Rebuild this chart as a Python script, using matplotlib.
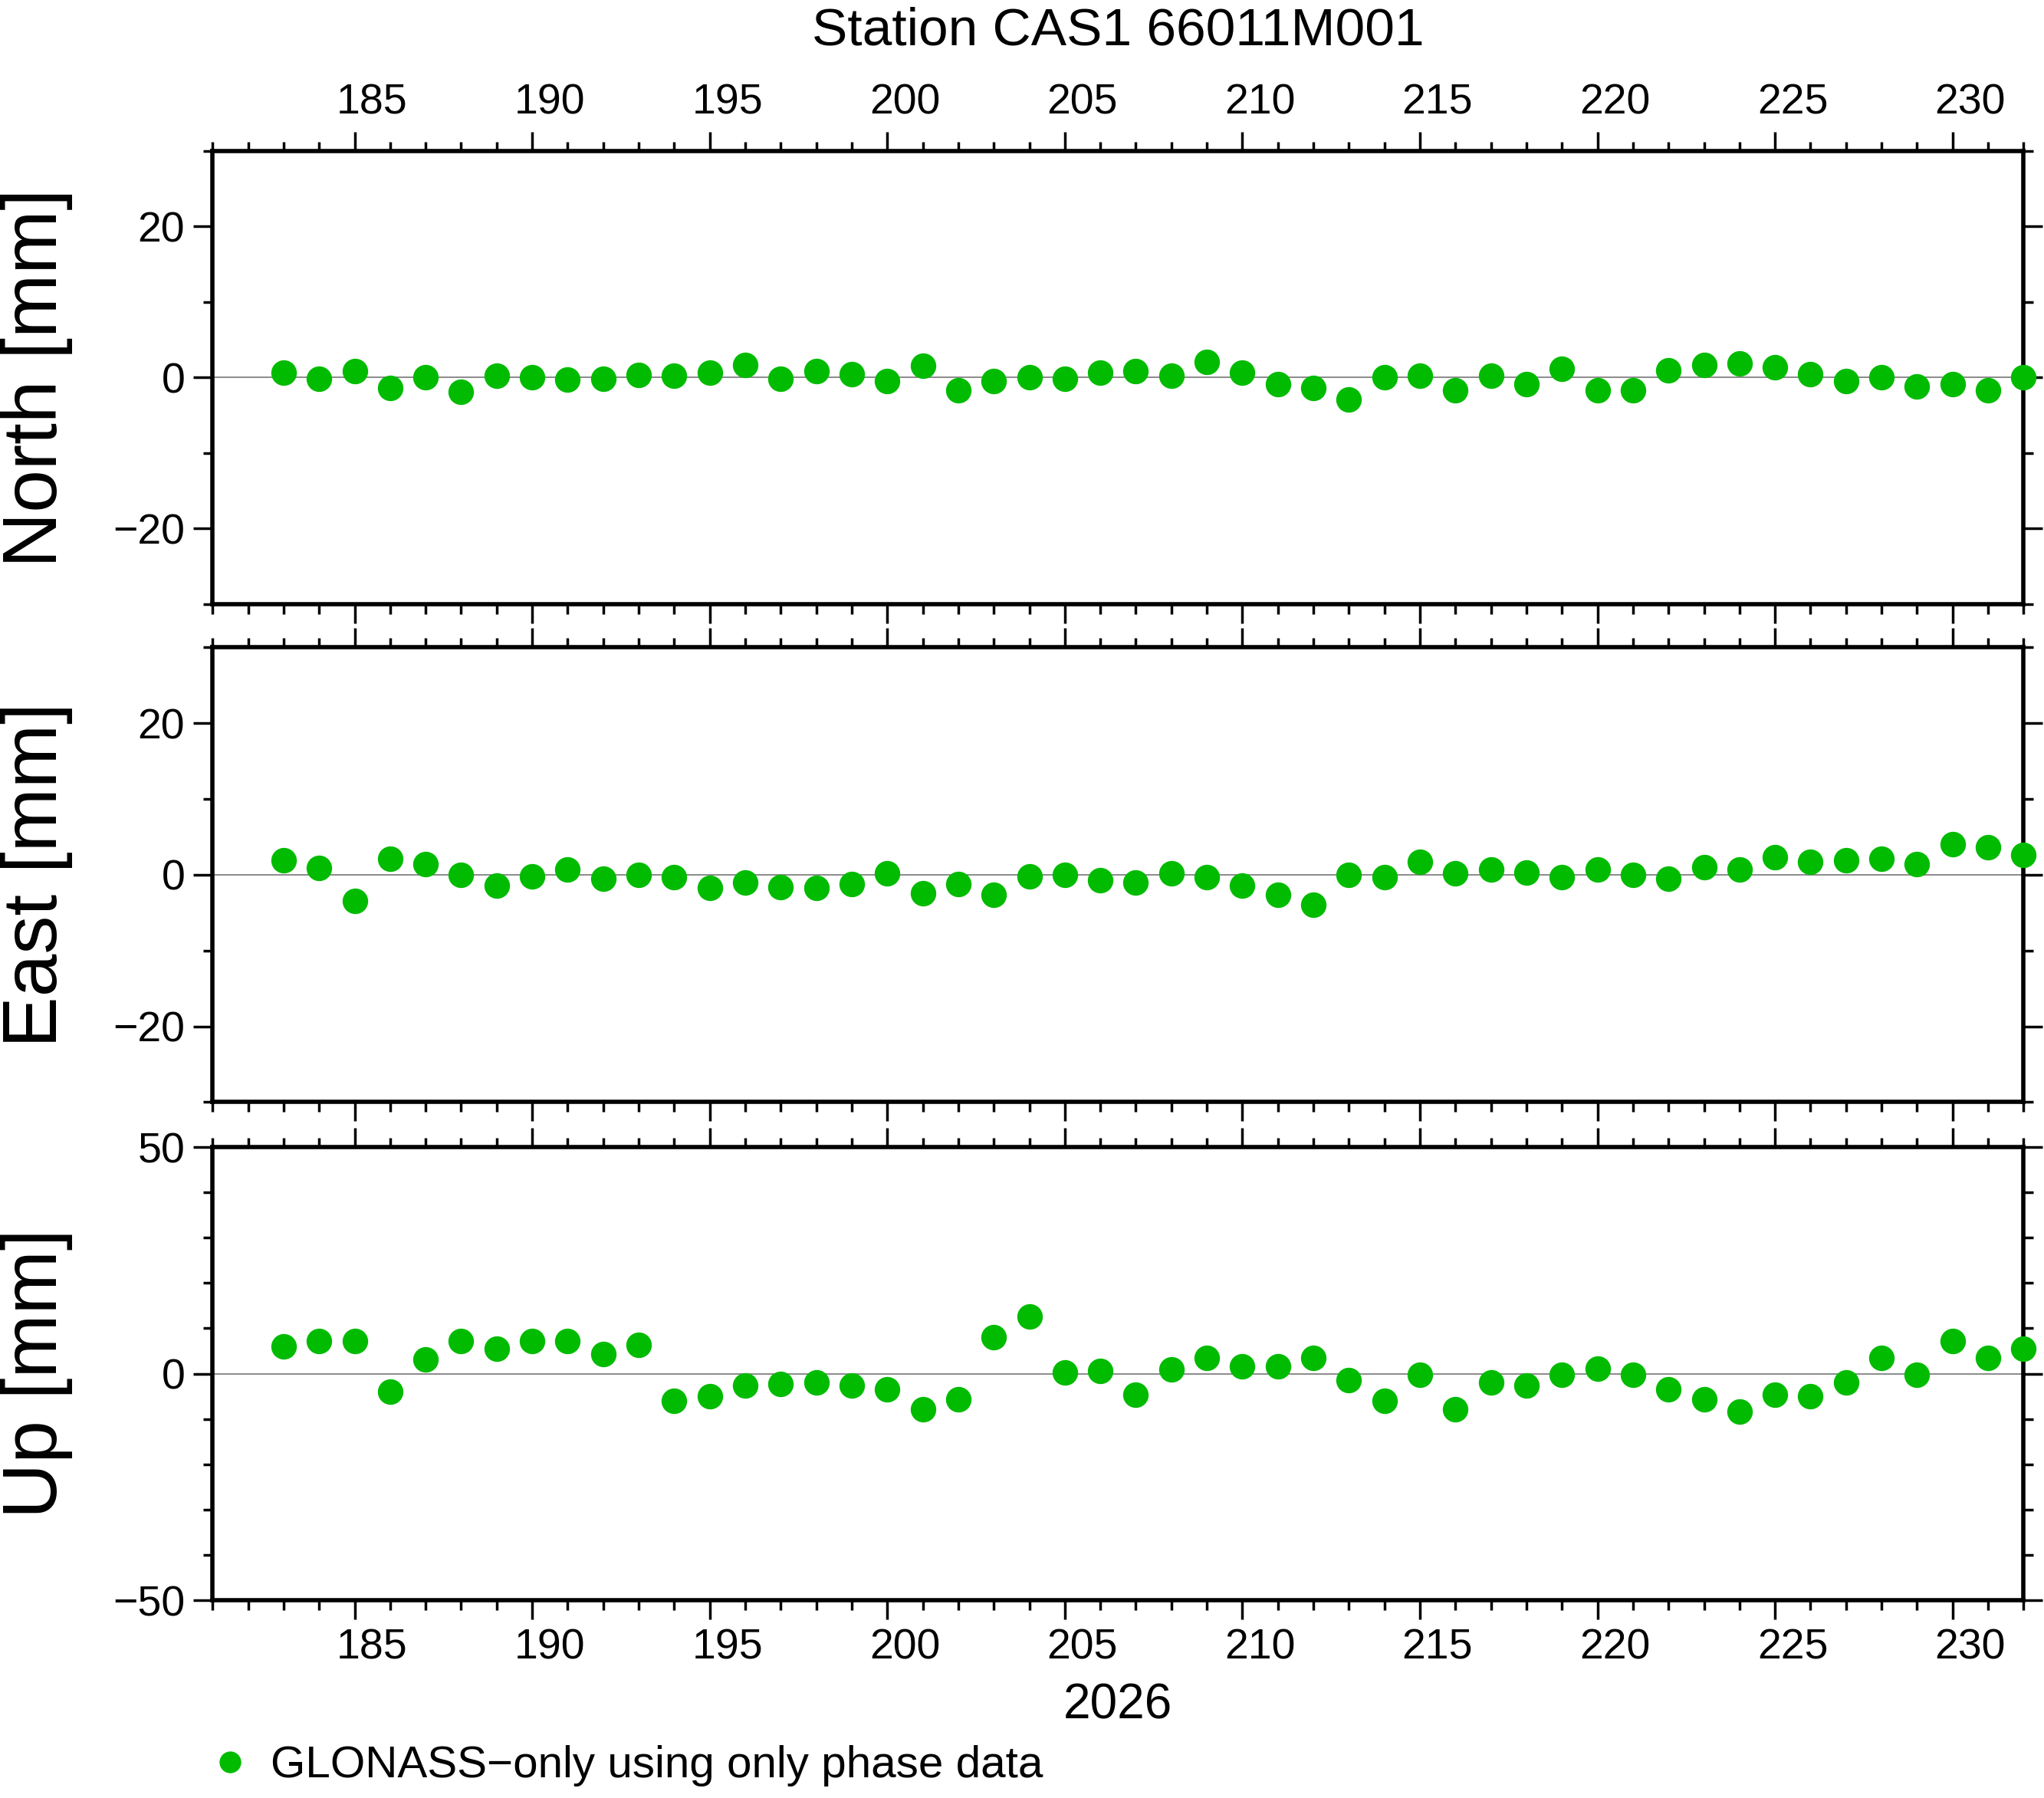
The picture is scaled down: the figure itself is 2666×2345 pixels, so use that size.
import matplotlib
matplotlib.use('Agg')
import matplotlib.pyplot as plt
import matplotlib.ticker as mticker
import matplotlib.transforms as mtrans
import numpy as np

plt.rcParams['font.family'] = ['Liberation Sans', 'DejaVu Sans']

days = np.arange(183, 233)
north = [0.7, -0.2, 0.9, -1.4, 0.0, -1.9, 0.2, 0.0, -0.3, -0.2, 0.3, 0.2, 0.7, 1.7, -0.2, 0.9,
         0.5, -0.5, 1.6, -1.7, -0.5, 0.0, -0.2, 0.7, 0.9, 0.2, 2.1, 0.7, -0.9, -1.4, -2.9, 0.0,
         0.2, -1.7, 0.2, -0.9, 1.2, -1.7, -1.7, 1.0, 1.7, 1.9, 1.4, 0.5, -0.5, 0.0, -1.2, -0.9,
         -1.7, 0.0]
east = [1.9, 0.9, -3.5, 2.1, 1.4, 0.0, -1.4, -0.2, 0.7, -0.5, 0.0, -0.3, -1.7, -1.0, -1.6,
        -1.7, -1.2, 0.2, -2.4, -1.2, -2.6, -0.2, 0.0, -0.7, -1.0, 0.2, -0.3, -1.4, -2.6, -4.0,
        0.0, -0.3, 1.7, 0.2, 0.7, 0.3, -0.3, 0.7, 0.0, -0.5, 1.0, 0.7, 2.3, 1.7, 1.9, 2.1, 1.4,
        4.0, 3.6, 2.6]
up = [6.0, 7.2, 7.2, -4.0, 3.2, 7.2, 5.5, 7.2, 7.2, 4.3, 6.3, -6.0, -4.9, -2.6, -2.3, -2.0,
      -2.6, -3.4, -7.8, -5.7, 8.0, 12.6, 0.3, 0.6, -4.6, 0.9, 3.4, 1.7, 1.7, 3.4, -1.4, -6.0,
      -0.3, -7.8, -2.0, -2.6, -0.3, 1.1, -0.3, -3.4, -5.7, -8.3, -4.6, -4.9, -2.0, 3.4, -0.3,
      7.2, 3.4, 5.5]

panels = [('North [mm]', north, 30, 20), ('East [mm]', east, 30, 20), ('Up [mm]', up, 50, 50)]
green = '#00bb00'

fig = plt.figure(figsize=(26.66, 23.45), dpi=100)
bounds = [(0.664, 0.916), (0.387, 0.640), (0.110, 0.362)]
shift = mtrans.ScaledTranslation(0.23, 0, fig.dpi_scale_trans)

for i, (label, vals, lim, major) in enumerate(panels):
    b, t = bounds[i]
    ax = fig.add_axes([0.104, b, 0.886, t - b])
    ax.axhline(0, color='#777777', lw=1.2, zorder=1)
    h, = ax.plot(days, vals, 'o', color=green, ms=24, mec='none', zorder=3, clip_on=False)
    ax.set_xlim(181, 232)
    ax.set_ylim(-lim, lim)
    ax.yaxis.set_major_locator(mticker.MultipleLocator(major))
    ax.yaxis.set_minor_locator(mticker.MultipleLocator(10))
    ax.xaxis.set_major_locator(mticker.MultipleLocator(5))
    ax.xaxis.set_minor_locator(mticker.MultipleLocator(1))
    ax.yaxis.set_major_formatter(mticker.FuncFormatter(lambda v, p: f'{v:.0f}'.replace('-', '\u2212')))
    ax.tick_params(which='major', direction='out', length=18, width=2.5, labelsize=40,
                   top=True, right=True, labeltop=(i == 0), labelbottom=(i == 2), pad=8)
    ax.tick_params(which='minor', direction='out', length=9, width=2.5, top=True, right=True)
    for s in ax.spines.values():
        s.set_linewidth(4)
    for lab in ax.get_xticklabels():
        lab.set_transform(lab.get_transform() + shift)
    ax.set_ylabel(label, fontsize=72)
    ax.yaxis.set_label_coords(-0.077, 0.5)
    if i == 0:
        ax.set_title('Station CAS1 66011M001', fontsize=50, pad=100)
    if i == 2:
        ax.set_xlabel('2026', fontsize=46, labelpad=14)

fig.legend([h], ['GLONASS\u2212only using only phase data'], loc='lower left',
           bbox_to_anchor=(0.082, -0.016), frameon=False, fontsize=42, markerscale=0.85,
           handletextpad=0.4, handlelength=1.0)
fig.savefig('out.png', dpi=100)
